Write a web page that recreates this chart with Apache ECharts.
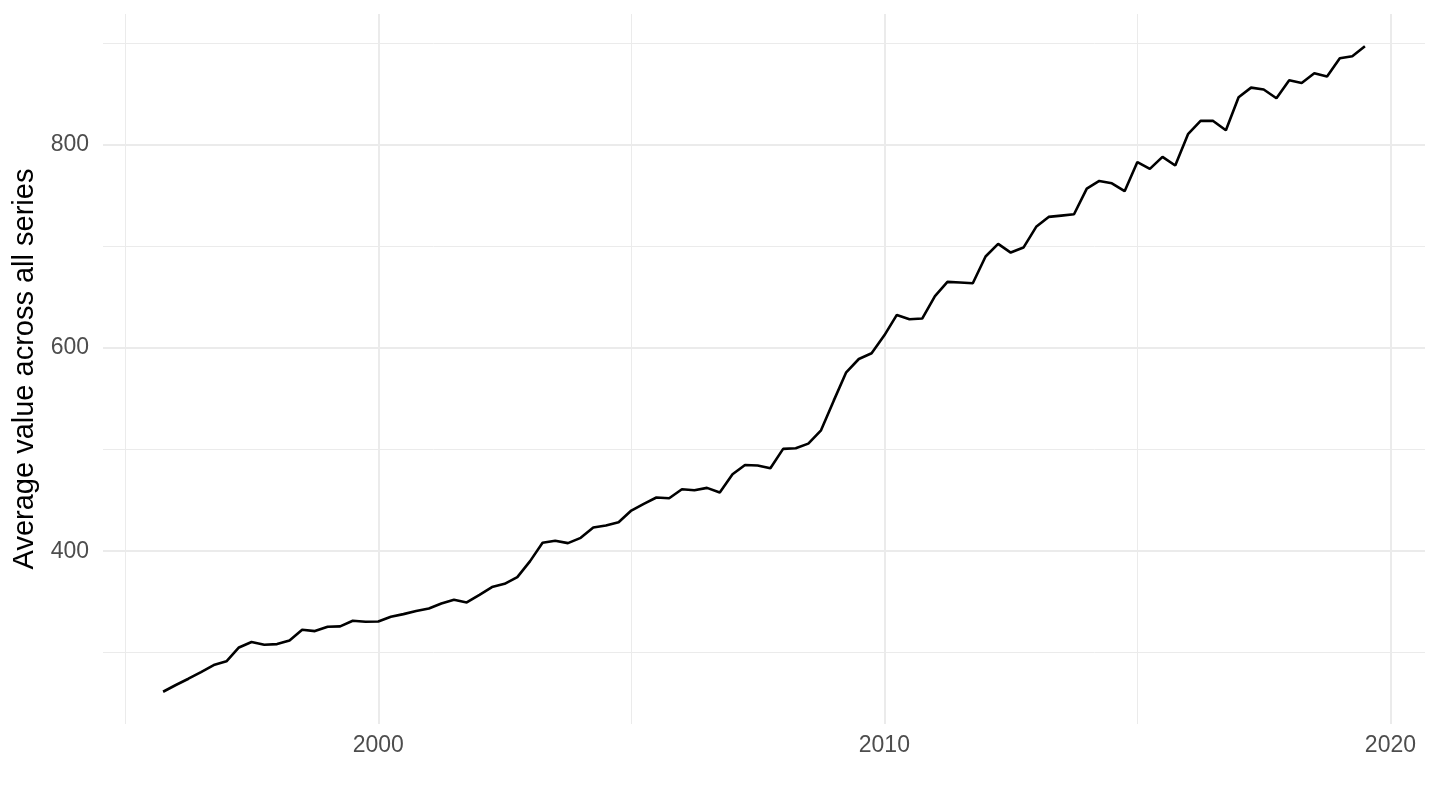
<!DOCTYPE html>
<html>
<head>
<meta charset="utf-8">
<title>Average value across all series</title>
<script src="https://cdn.jsdelivr.net/npm/echarts@6.0.0/dist/echarts.min.js"></script>
<style>
  html, body { margin: 0; padding: 0; background: #fff; }
  #chart { width: 1440px; height: 810px; }
</style>
</head>
<body>
<div id="chart"></div>
<script>
// 数据：季度平均值（1995 Q4 起）
const firstYear = 1995;
const firstMonth = 9; // 10 月，0 开始
const values = [
  261.6, 268.2, 274.4, 281.0, 287.9, 291.5, 305.2, 310.5, 307.9, 308.5,
  312.1, 322.6, 321.3, 325.6, 325.9, 331.5, 330.5, 330.8, 335.4, 338.0,
  341.0, 343.6, 348.5, 352.1, 349.5, 357.0, 364.6, 367.8, 374.4, 390.2,
  408.2, 410.2, 407.9, 413.1, 423.3, 425.3, 428.5, 440.0, 446.6, 452.8,
  452.1, 461.0, 460.0, 462.3, 457.7, 475.7, 484.9, 484.3, 481.6, 500.7,
  501.3, 505.9, 519.0, 548.2, 576.1, 589.2, 594.8, 612.5, 632.6, 628.4,
  629.0, 651.0, 665.1, 664.5, 663.8, 690.1, 702.5, 694.0, 698.9, 719.3,
  729.1, 730.4, 731.7, 757.0, 764.5, 762.2, 754.4, 783.1, 776.4, 788.2,
  779.7, 810.5, 823.6, 823.6, 814.4, 846.9, 856.4, 854.5, 845.9, 863.6,
  861.0, 870.5, 867.3, 885.3, 887.3, 897.1
];
// 刻度
const xMajorTicks = [2000, 2010, 2020];
const xMinorTicks = [1995, 2005, 2015];
const yMajorTicks = [400, 600, 800];
const yMinorTicks = [300, 500, 700, 900];

(function () {
  // 日期转成小数年份
  function decYear(y, m) {
    let start = Date.UTC(y, 0, 1)
    let end = Date.UTC(y + 1, 0, 1)
    return y + (Date.UTC(y, m, 1) - start) / (end - start)
  }
  let points = values.map(function (v, i) {
    let mIdx = firstMonth + 3 * i
    return [decYear(firstYear + Math.floor(mIdx / 12), mIdx % 12), v]
  })

  // ggplot 风格的 5% 扩展
  let xs = points.map(p => p[0])
  let xMin = Math.min(...xs), xMax = Math.max(...xs)
  let yMin = Math.min(...values), yMax = Math.max(...values)
  let xPad = (xMax - xMin) * 0.05
  let yPad = (yMax - yMin) * 0.05

  let myChart = echarts.init(document.getElementById('chart'))
  let font = 'Liberation Sans, Arial, Helvetica, sans-serif'

  let majorLine = { lineStyle: { color: '#EBEBEB', width: 2 } }
  let minorLine = { lineStyle: { color: '#EBEBEB', width: 1 } }

  let option = {
    animation: false,
    backgroundColor: '#fff',
    grid: {
      left: 103,
      right: 15,
      top: 14,
      bottom: 86,
      containLabel: false,
      outerBoundsMode: 'none'
    },
    xAxis: [
      {
        type: 'value',
        min: xMin - xPad,
        max: xMax + xPad,
        axisLine: { show: false },
        axisTick: { show: false, customValues: xMajorTicks },
        axisLabel: {
          customValues: xMajorTicks,
          // 年份不要千分位
          formatter: function (v) { return String(Math.round(v)) },
          color: '#4D4D4D',
          fontSize: 23,
          fontFamily: font,
          margin: 10
        },
        splitLine: majorLine,
        z: 2
      },
      // 次网格线
      {
        type: 'value',
        min: xMin - xPad,
        max: xMax + xPad,
        position: 'bottom',
        axisLine: { show: false },
        axisTick: { show: false, customValues: xMinorTicks },
        axisLabel: { show: false },
        splitLine: minorLine,
        z: 1
      }
    ],
    yAxis: [
      {
        type: 'value',
        min: yMin - yPad,
        max: yMax + yPad,
        name: 'Average value across all series',
        nameLocation: 'middle',
        nameGap: 62,
        nameTextStyle: {
          color: '#000',
          fontSize: 29,
          fontFamily: font
        },
        axisLine: { show: false },
        axisTick: { show: false, customValues: yMajorTicks },
        axisLabel: {
          customValues: yMajorTicks,
          formatter: function (v) { return String(Math.round(v)) },
          color: '#4D4D4D',
          fontSize: 23,
          fontFamily: font,
          margin: 14
        },
        splitLine: majorLine,
        z: 2
      },
      {
        type: 'value',
        min: yMin - yPad,
        max: yMax + yPad,
        position: 'left',
        axisLine: { show: false },
        axisTick: { show: false, customValues: yMinorTicks },
        axisLabel: { show: false },
        splitLine: minorLine,
        z: 1
      }
    ],
    series: [
      {
        type: 'line',
        xAxisIndex: 0,
        yAxisIndex: 0,
        data: points,
        showSymbol: false,
        symbol: 'none',
        lineStyle: { color: '#000', width: 2.6 },
        z: 5
      }
    ]
  }

  myChart.setOption(option)
})();
</script>
</body>
</html>
